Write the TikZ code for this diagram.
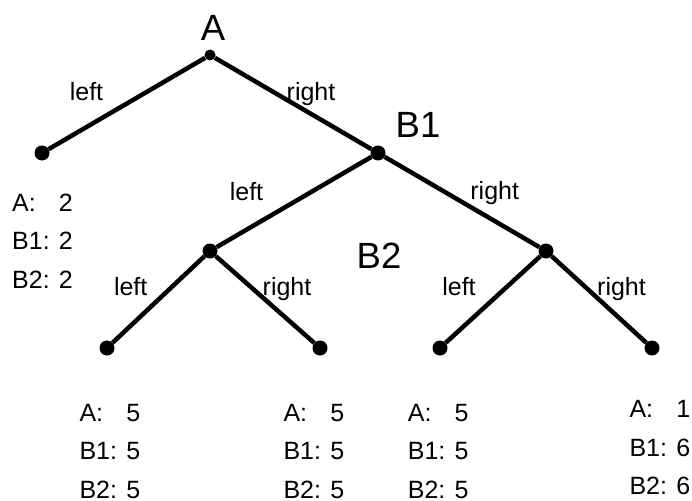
\documentclass[tikz,border=0pt]{standalone}
\usepackage{fontspec}
\setmainfont{Liberation Sans}
\begin{document}
\begin{tikzpicture}[x=1pt,y=-1pt,
  dot/.style={circle,fill=black,inner sep=0pt,minimum size=15pt},
  rootdot/.style={circle,fill=black,inner sep=0pt,minimum size=11pt},
  edge/.style={line width=4.5pt},
  big/.style={font=\fontsize{36.5}{44}\selectfont,anchor=base,inner sep=0pt},
  lab/.style={font=\fontsize{25}{30}\selectfont,anchor=base,inner sep=0pt},
  pay/.style={font=\fontsize{25}{38.5}\selectfont,anchor=base west,inner sep=0pt}]
\useasboundingbox (0,0) rectangle (692,500);
% nodes
\node[rootdot] (r) at (210,55) {};
\node[dot] (l1) at (42,153) {};
\node[dot] (b1) at (378,153) {};
\node[dot] (b2l) at (210,251) {};
\node[dot] (b2r) at (546,251) {};
\node[dot] (ll) at (107,348) {};
\node[dot] (lr) at (320,348) {};
\node[dot] (rl) at (440,348) {};
\node[dot] (rr) at (652,348) {};
% edges
\draw[edge] (r) -- (l1);
\draw[edge] (r) -- (b1);
\draw[edge] (b1) -- (b2l);
\draw[edge] (b1) -- (b2r);
\draw[edge] (b2l) -- (ll);
\draw[edge] (b2l) -- (lr);
\draw[edge] (b2r) -- (rl);
\draw[edge] (b2r) -- (rr);
% player labels
\node[big] (tA) at (213,41) {A};
\node[big] (tB1) at (418,137) {B1};
\node[big] (tB2) at (379,268) {B2};
% edge labels
\node[lab] (e1) at (86.5,100) {left};
\node[lab] (e2) at (311,100) {right};
\node[lab] (e3) at (246.5,200) {left};
\node[lab] (e4) at (494.7,199) {right};
\node[lab] (e5) at (130.7,295) {left};
\node[lab] (e6) at (287,295) {right};
\node[lab] (e7) at (459,295) {left};
\node[lab] (e8) at (621.5,295) {right};
% payoffs
\node[pay] (p1) at (12,211) {\begin{tabular}[t]{@{}l@{ }l@{}}A: & 2\\B1: & 2\\B2: & 2\end{tabular}};
\node[pay] (p2) at (79.3,421) {\begin{tabular}[t]{@{}l@{ }l@{}}A: & 5\\B1: & 5\\B2: & 5\end{tabular}};
\node[pay] (p3) at (283.3,421) {\begin{tabular}[t]{@{}l@{ }l@{}}A: & 5\\B1: & 5\\B2: & 5\end{tabular}};
\node[pay] (p4) at (407.7,421) {\begin{tabular}[t]{@{}l@{ }l@{}}A: & 5\\B1: & 5\\B2: & 5\end{tabular}};
\node[pay] (p5) at (629.3,417.5) {\begin{tabular}[t]{@{}l@{ }l@{}}A: & 1\\B1: & 6\\B2: & 6\end{tabular}};
\end{tikzpicture}
\end{document}
